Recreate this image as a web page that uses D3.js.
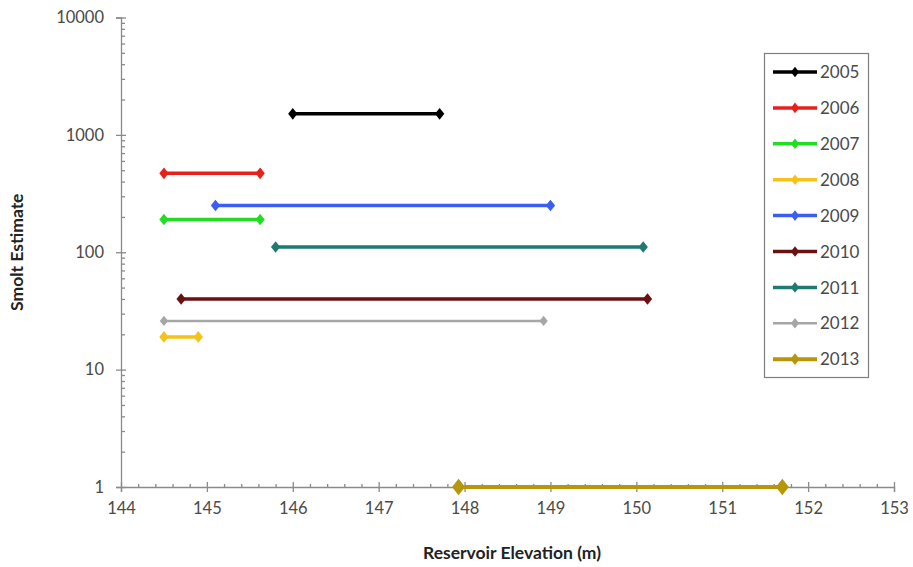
<!DOCTYPE html>
<html>
<head>
<meta charset="utf-8">
<script src="https://cdn.jsdelivr.net/npm/d3@7"></script>
<style>
  body { margin: 0; background: #fff; }
  text { font-family: Lato, "Open Sans", sans-serif; }
</style>
</head>
<body>
<div id="chart"></div>
<script>
const years = ["2005", "2006", "2007", "2008", "2009", "2010", "2011", "2012", "2013"];
const colors = ["#000000", "#e8201c", "#22dd22", "#f5c21a", "#3a5ef0", "#6b1010", "#1f7a72", "#a6a6a6", "#b8960c"];
const estimates = [1510, 470, 190, 19, 250, 40, 111, 26, 1];
const elevMin = [146.0, 144.5, 144.5, 144.5, 145.1, 144.7, 145.8, 144.5, 147.93];
const elevMax = [147.71, 145.62, 145.62, 144.9, 149.0, 150.13, 150.08, 148.92, 151.7];
const xTicks = [144, 145, 146, 147, 148, 149, 150, 151, 152, 153];
const yTicks = [1, 10, 100, 1000, 10000];

const width = 913, height = 567;
const svg = d3.select("#chart").append("svg")
  .attr("width", width)
  .attr("height", height);

const x = d3.scaleLinear().domain([144, 153]).range([121, 894]);
const y = d3.scaleLog().domain([1, 10000]).range([487, 17.5]);

const axisColor = "#8a8a8a";
const labelColor = "#4a4a4a";

// minor ticks
const xMinor = [];
for (let v = 144; v < 153; v++) for (let k = 1; k < 5; k++) xMinor.push(v + k * 0.2);
const yMinor = [];
for (let d = 1; d < 10000; d *= 10) for (let k = 2; k < 10; k++) yMinor.push(d * k);

const yAxis = svg.append("g")
  .attr("transform", `translate(${x(144)},0)`)
  .call(d3.axisLeft(y).tickValues(yTicks).tickFormat(d3.format("d")).tickSizeOuter(0).tickSize(5).tickPadding(12));
yAxis.selectAll(".tick line").attr("x2", -5).attr("x1", 5);
svg.append("g")
  .attr("transform", `translate(${x(144)},0)`)
  .call(d3.axisLeft(y).tickValues(yMinor).tickFormat("").tickSizeOuter(0).tickSize(-4))
  .select(".domain").remove();

const xAxis = svg.append("g")
  .attr("transform", `translate(0,${y(1)})`)
  .call(d3.axisBottom(x).tickValues(xTicks).tickFormat(d3.format("d")).tickSizeOuter(0).tickSize(5).tickPadding(10));
xAxis.selectAll(".tick line").attr("y1", -5);
svg.append("g")
  .attr("transform", `translate(0,${y(1)})`)
  .call(d3.axisBottom(x).tickValues(xMinor).tickFormat("").tickSizeOuter(0).tickSize(-3))
  .select(".domain").remove();

svg.selectAll(".domain, .tick line").attr("stroke", axisColor).attr("stroke-width", 1.3);
svg.selectAll(".tick text").attr("fill", labelColor).style("font-size", "16.5px");

// axis titles
svg.append("text")
  .attr("transform", `translate(23,${(y(1) + y(10000)) / 2}) rotate(-90)`)
  .attr("text-anchor", "middle")
  .style("font-size", "17.5px").style("font-weight", "bold").attr("fill", "#222")
  .text("Smolt Estimate");
svg.append("text")
  .attr("x", 512)
  .attr("y", 559)
  .attr("text-anchor", "middle")
  .style("font-size", "17.5px").style("font-weight", "bold").attr("fill", "#222")
  .text("Reservoir Elevation (m)");

const rows = years.map((yr, i) => ({
  year: yr, color: colors[i], est: estimates[i], lo: elevMin[i], hi: elevMax[i], i
}));

const diamond = d3.symbol().type(d3.symbolDiamond);
const lineW = d => d.year === "2012" ? 2.5 : (d.year === "2013" ? 4 : 3.5);
const markSize = d => d.year === "2013" ? 95 : (d.year === "2012" ? 38 : 48);

const series = svg.append("g").selectAll("g").data(rows).join("g");
series.append("line")
  .attr("x1", d => x(d.lo)).attr("x2", d => x(d.hi))
  .attr("y1", d => y(d.est)).attr("y2", d => y(d.est))
  .attr("stroke", d => d.color).attr("stroke-width", lineW);
series.selectAll("path")
  .data(d => [d.lo, d.hi].map(v => ({ v, d })))
  .join("path")
  .attr("transform", p => `translate(${x(p.v)},${y(p.d.est)}) scale(1.25,0.9)`)
  .attr("d", p => diamond.size(markSize(p.d))())
  .attr("fill", p => p.d.color);

// legend
const legend = svg.append("g");
legend.append("rect")
  .attr("x", 764.5).attr("y", 53.5).attr("width", 104).attr("height", 324)
  .attr("fill", "#fff").attr("stroke", "#7f7f7f").attr("stroke-width", 1.2);
const li = legend.selectAll("g.item").data(rows).join("g").attr("class", "item")
  .attr("transform", (d, i) => `translate(773,${72 + i * 35.9})`);
li.append("line").attr("x1", 0).attr("x2", 44)
  .attr("stroke", d => d.color).attr("stroke-width", lineW);
li.append("path").attr("transform", "translate(22,0) scale(1.2,0.9)")
  .attr("d", d => diamond.size(d.year === "2013" ? 50 : 40)())
  .attr("fill", d => d.color);
li.append("text").attr("x", 47).attr("dy", "0.36em")
  .style("font-size", "17px").attr("fill", labelColor)
  .text(d => d.year);
</script>
</body>
</html>
